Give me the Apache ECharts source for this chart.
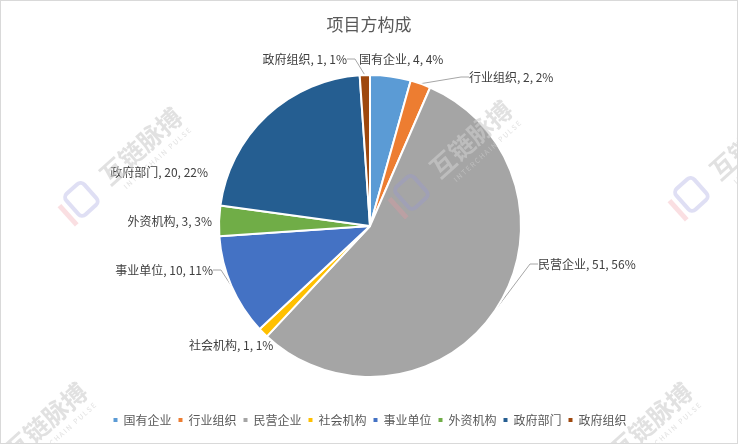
<!DOCTYPE html>
<html><head><meta charset="utf-8">
<script src="https://cdn.jsdelivr.net/npm/echarts@6/dist/echarts.min.js"></script>
<style>html,body{margin:0;padding:0;background:#fff}#c{width:736px;height:442px;border:1px solid #d9d9d9}</style>
</head><body><div id="c"></div>
<script>
const categories = ['国有企业','行业组织','民营企业','社会机构','事业单位','外资机构','政府部门','政府组织'];
const values = [4, 2, 51, 1, 10, 3, 20, 1];
const colors = ['#5B9BD5','#ED7D31','#A5A5A5','#FFC000','#4472C4','#70AD47','#255E91','#9E480E'];
const title = '项目方构成';
const font = '"Noto Sans CJK SC", "Microsoft YaHei", sans-serif';

// label anchor placements (text positions, not marks) and whether a leader line is drawn
const labelPlace = [
  {x:358, y:58, align:'left', line:false},
  {x:468, y:76, align:'left', line:true},
  {x:537, y:263, align:'left', line:true},
  {x:188, y:344, align:'left', line:false},
  {x:212, y:269, align:'right', line:true},
  {x:211, y:220, align:'right', line:false},
  {x:207, y:171, align:'right', line:false},
  {x:346, y:58, align:'right', line:true}
];

const chart = echarts.init(document.getElementById('c'));
function watermark(x, y) {
  return {
    type:'group', x:x, y:y, rotation:0.73, z:100, silent:true,
    children:[
      {type:'text', x:0, y:0, z:100, style:{text:'互链脉搏', font:'bold 25px ' + font, fill:'rgba(205,205,205,0.6)', align:'center', verticalAlign:'middle'}},
      {type:'text', x:4, y:20, z:100, style:{text:'I N T E R C H A I N   P U L S E', font:'7px ' + font, fill:'rgba(205,205,205,0.6)', align:'center', verticalAlign:'middle'}},
      {type:'rect', x:-92, y:-14, z:100, shape:{width:24, height:28, r:5}, style:{fill:'none', stroke:'rgba(150,150,220,0.3)', lineWidth:4}},
      {type:'rect', x:-103, y:-10, z:100, shape:{width:5, height:26}, style:{fill:'rgba(240,150,160,0.3)'}}
    ]
  };
}
const wm = [[470,138],[140,145],[750,140],[650,420],[45,420]].map(p => watermark(p[0], p[1]));
chart.setOption({
  animation:false,
  color: colors,
  textStyle:{fontFamily: font},
  title:{text:title, left:'center', top:10, textStyle:{fontSize:17, fontWeight:'normal', color:'#595959', fontFamily:font}},
  graphic: wm,
  legend:{bottom:12, left:'center', itemWidth:6, itemHeight:6, itemGap:5, icon:'rect',
    textStyle:{fontSize:12, color:'#595959', fontFamily:font}},
  series:[{
    type:'pie', center:[369,225], radius:[0,151], startAngle:90, clockwise:true,
    percentPrecision:0,
    itemStyle:{borderColor:'#fff', borderWidth:2},
    label:{show:true, formatter:'{b}, {c}, {d}%', fontSize:12, color:'#404040', fontFamily:font},
    labelLine:{show:true, length:12, length2:8, lineStyle:{color:'#a6a6a6', width:1}},
    labelLayout: function (params) {
      const p = labelPlace[params.dataIndex];
      return {x:p.x, y:p.y, align:p.align, verticalAlign:'middle'};
    },
    emphasis:{disabled:true},
    data: categories.map((n,i)=>({name:n, value:values[i], labelLine:{show:labelPlace[i].line}}))
  }]
});
</script></body></html>
